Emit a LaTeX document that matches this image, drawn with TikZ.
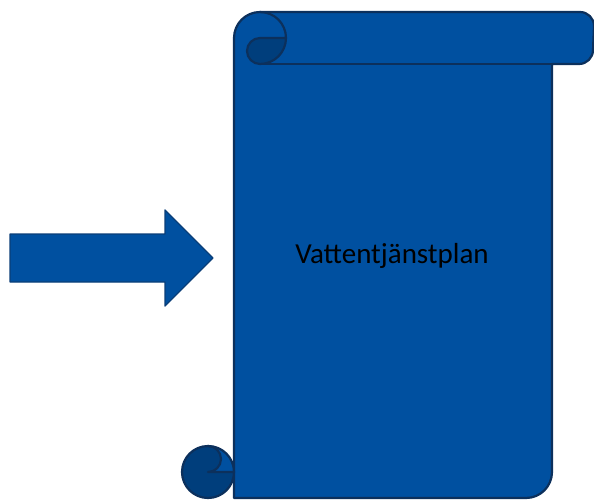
\documentclass[tikz,border=0pt]{standalone}
\usepackage{fontspec}
\setmainfont{Carlito}
\definecolor{scrollblue}{RGB}{0,80,160}
\definecolor{curlblue}{RGB}{0,62,124}
\definecolor{edgeblue}{RGB}{12,48,92}
\definecolor{arrowedge}{RGB}{10,62,120}

\begin{document}
\begin{tikzpicture}[x=1pt, y=-1pt, line join=round,
	outline/.style={draw=edgeblue, line width=2.2pt},
	sheet/.style={fill=scrollblue},
	curl/.style={fill=curlblue}]
	\useasboundingbox (0,0) rectangle (594,500);
	\filldraw[sheet, draw=arrowedge, line width=1.4pt]
		(10,234) -- (165,234) -- (165,210) -- (213,258) -- (165,306) -- (165,282) -- (10,282) -- cycle;
	\filldraw[sheet, outline]
		(234,498) -- (234,38) arc[start angle=180, end angle=270, radius=26]
		-- (580,12) arc[start angle=270, end angle=360, radius=14]
		-- (593,50) arc[start angle=0, end angle=90, radius=14]
		-- (552,64) -- (552,472) arc[start angle=0, end angle=90, radius=26]
		-- cycle;
	\draw[outline] (260,64) -- (552,64);
	\fill[curl] (286,38) arc[start angle=0, end angle=90, radius=26]
		arc[start angle=90, end angle=270, radius=13] -- cycle;
	\draw[outline] (260,12) arc[start angle=270, end angle=450, radius=26]
		arc[start angle=90, end angle=270, radius=13] -- (286,38);
	\fill[curl] (208,472) circle[radius=26];
	\fill[sheet] (208,446) arc[start angle=270, end angle=360, radius=26] -- (208,472)
		arc[start angle=90, end angle=-90, radius=13] -- cycle;
	\draw[outline] (208,472) circle[radius=26];
	\draw[outline] (208,446) arc[start angle=270, end angle=450, radius=13] -- (234,472);
	\draw[outline] (234,446) -- (234,498);
	\node (plan) at (392,256) {\fontsize{29}{35}\selectfont Vattentjänstplan};
\end{tikzpicture}
\end{document}
